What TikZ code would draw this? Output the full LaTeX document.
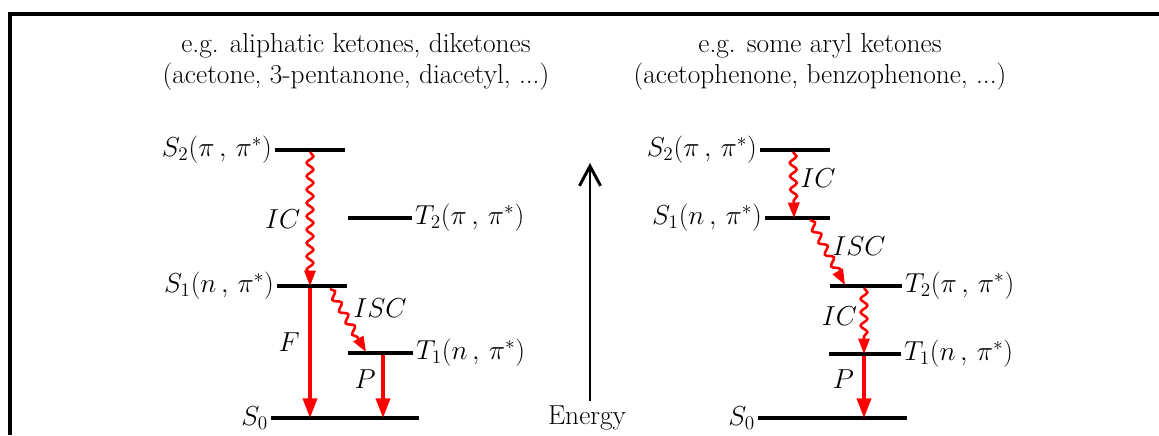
\RequirePackage{fix-cm}
\documentclass[tikz,border=0pt]{standalone}
\usepackage{fontspec}
\usetikzlibrary{arrows.meta,decorations.pathmorphing}

\tikzset{
  level/.style={line width=2.8pt},
  frame/.style={line width=2.8pt},
  trans/.style={red, line width=2.5pt, -{Triangle[length=14pt,width=10pt]}},
  wavy/.style={red, line width=1.8pt, -{Triangle[length=11pt,width=8pt]},
    decorate, decoration={snake, amplitude=2.4pt, segment length=9.5pt, post length=8pt}},
  energyarrow/.style={line width=2.1pt, -{Straight Barb[length=14pt,width=15pt]}},
  lab/.style={font=\fontsize{19.5}{23}\selectfont, inner sep=2pt, text=black},
  heading/.style={font=\fontsize{19.5}{21.5}\selectfont, align=center},
}

\begin{document}
\begin{tikzpicture}[x=0.025cm, y=-0.025cm]
  \useasboundingbox (0,0) rectangle (1159,435);

  % Rahmen
  \draw[frame] (10,435) -- (10,14) -- (1159,14);

  % Ueberschriften
  \node[heading] (titleA) at (356,62) {e.g. aliphatic ketones, diketones\\(acetone, 3-pentanone, diacetyl, ...)};
  \node[heading] (titleB) at (820,62) {e.g. some aryl ketones\\(acetophenone, benzophenone, ...)};

  % Niveaus links
  \coordinate (aS2-l) at (275,150); \coordinate (aS2-r) at (345,150);
  \coordinate (aT2-l) at (348,218); \coordinate (aT2-r) at (412,218);
  \coordinate (aS1-l) at (277,286); \coordinate (aS1-r) at (347,286);
  \coordinate (aT1-l) at (348,353); \coordinate (aT1-r) at (413,353);
  \coordinate (aS0-l) at (271,418); \coordinate (aS0-r) at (419,418);

  % Niveaus rechts
  \coordinate (bS2-l) at (760,150); \coordinate (bS2-r) at (830,150);
  \coordinate (bS1-l) at (765,218); \coordinate (bS1-r) at (830,218);
  \coordinate (bT2-l) at (830,286); \coordinate (bT2-r) at (902,286);
  \coordinate (bT1-l) at (829,354); \coordinate (bT1-r) at (901,354);
  \coordinate (bS0-l) at (758,418); \coordinate (bS0-r) at (907,418);

  \foreach \lv in {aS2,aT2,aS1,aT1,aS0,bS2,bS1,bT2,bT1,bS0}
    \draw[level] (\lv-l) -- (\lv-r);

  % Beschriftung der Niveaus
  \node[lab, anchor=east] (aS2) at (aS2-l) {$S_2(\pi\,,\,\pi^*)$};
  \node[lab, anchor=west] (aT2) at (aT2-r) {$T_2(\pi\,,\,\pi^*)$};
  \node[lab, anchor=east] (aS1) at (aS1-l) {$S_1(n\,,\,\pi^*)$};
  \node[lab, anchor=west] (aT1) at (aT1-r) {$T_1(n\,,\,\pi^*)$};
  \node[lab, anchor=east] (aS0) at (aS0-l) {$S_0$};
  \node[lab, anchor=east] (bS2) at (bS2-l) {$S_2(\pi\,,\,\pi^*)$};
  \node[lab, anchor=east] (bS1) at (bS1-l) {$S_1(n\,,\,\pi^*)$};
  \node[lab, anchor=west] (bT2) at (bT2-r) {$T_2(\pi\,,\,\pi^*)$};
  \node[lab, anchor=west] (bT1) at (bT1-r) {$T_1(n\,,\,\pi^*)$};
  \node[lab, anchor=east] (bS0) at (bS0-l) {$S_0$};

  % Uebergaenge links
  \coordinate (aIC-s)  at (310,152); \coordinate (aIC-e)  at (310,286);
  \coordinate (aF-s)   at (310,288); \coordinate (aF-e)   at (310,418);
  \coordinate (aISC-s) at (330,289); \coordinate (aISC-e) at (366,352);
  \coordinate (aP-s)   at (383,355); \coordinate (aP-e)   at (383,418);
  \draw[wavy]  (aIC-s)  -- node[lab, left=4pt] (aIClab) {$IC$} (aIC-e);
  \draw[trans] (aF-s)   -- node[lab, left=4pt, pos=0.42] (aFlab) {$F$} (aF-e);
  \draw[wavy]  (aISC-s) -- node[lab, right=6pt, pos=0.3] (aISClab) {$ISC$} (aISC-e);
  \draw[trans] (aP-s)   -- node[lab, left=2pt, pos=0.38] (aPlab) {$P$} (aP-e);

  % Uebergaenge rechts
  \coordinate (bIC-s)  at (793,152); \coordinate (bIC-e)  at (794,218);
  \coordinate (bISC-s) at (810,220); \coordinate (bISC-e) at (845,285);
  \coordinate (bICb-s) at (864,288); \coordinate (bICb-e) at (864,354);
  \coordinate (bP-s)   at (864,356); \coordinate (bP-e)   at (864,418);
  \draw[wavy]  (bIC-s)  -- node[lab, right=2pt, pos=0.4] (bIClab) {$IC$} (bIC-e);
  \draw[wavy]  (bISC-s) -- node[lab, right=3pt, pos=0.4] (bISClab) {$ISC$} (bISC-e);
  \draw[wavy]  (bICb-s) -- node[lab, left=2pt, pos=0.42] (bICblab) {$IC$} (bICb-e);
  \draw[trans] (bP-s)   -- node[lab, left=4pt, pos=0.38] (bPlab) {$P$} (bP-e);

  % Energieachse
  \node[heading] (energy) at (587,418) {Energy};
  \coordinate (eTop) at (590,163);
  \draw[energyarrow] (energy.north -| eTop) -- (eTop);
\end{tikzpicture}
\end{document}
